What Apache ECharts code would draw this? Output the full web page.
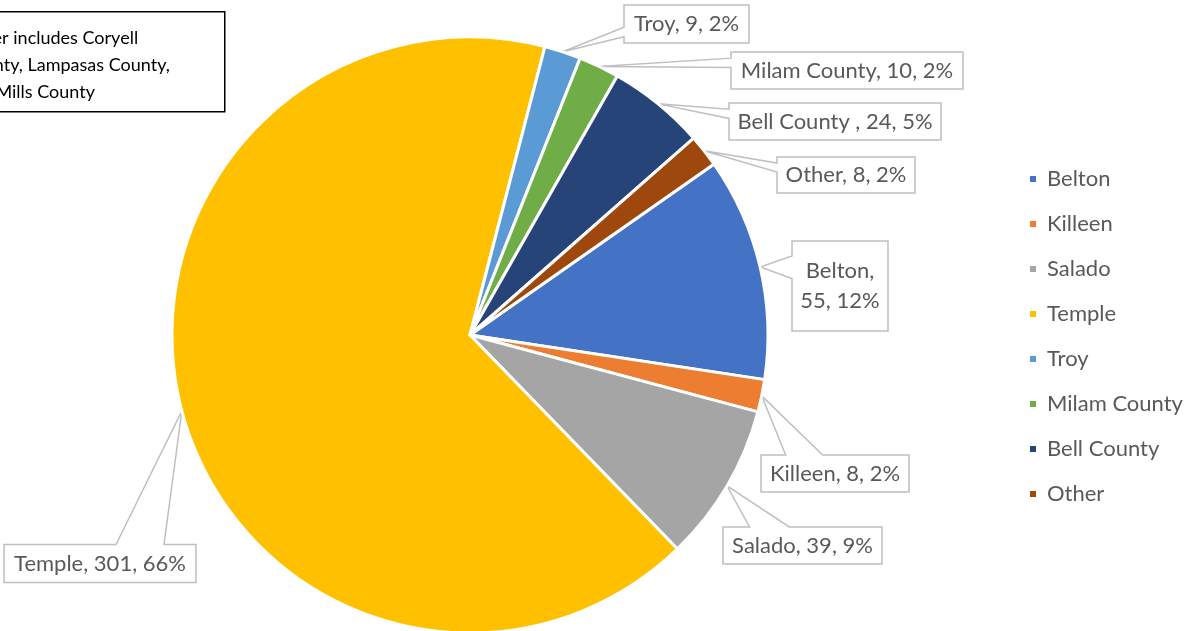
<!DOCTYPE html>
<html><head><meta charset="utf-8">
<script src="https://cdn.jsdelivr.net/npm/echarts@6/dist/echarts.min.js"></script>
<style>html,body{margin:0;padding:0;background:#fff}#c{width:1188px;height:631px}</style>
</head><body><div id="c"></div>
<script>
const categories = ['Belton','Killeen','Salado','Temple','Troy','Milam County','Bell County','Other'];
const values = [55, 8, 39, 301, 9, 10, 24, 8];
const labelNames = ['Belton','Killeen','Salado','Temple','Troy','Milam County','Bell County ','Other'];
const colors = ['#4472C4','#ED7D31','#A5A5A5','#FFC000','#5B9BD5','#70AD47','#264478','#9E480E'];
const noteLines = ['Other includes Coryell','County, Lampasas County,','and Mills County'];

// callout boxes [centerX, centerY, width, height] (layout only)
const labelBoxes = [[840,286,96,90],[835,473.5,148,37],[802.5,545.5,159,37],[100,563.5,192,38],
                    [686.5,24,125,38],[847,70.5,232,37],[835,121.5,212,37],[846,175,138,36]];

const total = values.reduce((a,b)=>a+b,0);
const FONT = 'Lato, "Open Sans", sans-serif';
const PIE_CENTER = [470,335], PIE_R = 298, START = 35;
const chart = echarts.init(document.getElementById('c'));
chart.setOption({
  animation:false,
  color: colors,
  legend:{
    orient:'vertical', left:1028, top:168, padding:0, itemWidth:8, itemHeight:8, itemGap:23,
    icon:'rect',
    data: categories,
    textStyle:{fontFamily:FONT, fontSize:22, color:'#595959', padding:[0,0,0,5]}
  },
  graphic:[{
    id:'note', type:'group', left:-40, top:11, z:0,
    children:[
      {type:'rect', shape:{x:0,y:0,width:264,height:100}, style:{fill:'#fff', stroke:'#000', lineWidth:1.5}},
      {type:'text', x:1, y:13, style:{text:noteLines.join('\n'), font:'18px '+FONT, fill:'#000', lineHeight:27}}
    ]
  }],
  series:[{
    type:'pie', z:2,
    center:PIE_CENTER, radius:PIE_R, startAngle:START,
    itemStyle:{borderColor:'#fff', borderWidth:3},
    data: categories.map((c,i)=>({name:c, value:values[i]})),
    label:{
      show:true, position:'outside', overflow:'none',
      formatter: p => {
        const pct = Math.round(p.value/total*100)+'%';
        const nm = labelNames[p.dataIndex];
        return p.dataIndex===0 ? nm+',\n'+p.value+', '+pct : nm+', '+p.value+', '+pct;
      },
      fontFamily:FONT, fontSize:22, color:'#595959', lineHeight:30
    },
    labelLine:{show:false},
    labelLayout: p => ({x:labelBoxes[p.dataIndex][0], y:labelBoxes[p.dataIndex][1], align:'center', verticalAlign:'middle'})
  }]
});

// Office-style wedge callouts pointing to the slice's mid-angle on the rim
function anchorOf(i){
  try {
    const lay = chart.getModel().getSeriesByIndex(0).getData().getItemLayout(i);
    const mid = (lay.startAngle + lay.endAngle)/2;
    const p = [lay.cx + lay.r*Math.cos(mid), lay.cy + lay.r*Math.sin(mid)];
    if (isFinite(p[0]) && isFinite(p[1])) return p;
    throw 0;
  } catch(e) {
    let acc = 0; for (let k=0;k<i;k++) acc += values[k];
    const a = (START - (acc + values[i]/2)/total*360) * Math.PI/180;
    return [PIE_CENTER[0] + PIE_R*Math.cos(a), PIE_CENTER[1] - PIE_R*Math.sin(a)];
  }
}
const callouts = labelBoxes.map((b,i)=>{
  const [cx,cy,w,h] = b; const l = cx-w/2, t = cy-h/2;
  const [px,py] = anchorOf(i);
  const dx = px-cx, dy = py-cy, dq = dx*h/w;
  const x1 = l + w*(dx>0?7:2)/12, x2 = l + w*(dx>0?10:5)/12;
  const y1 = t + h*(dy>0?7:2)/12, y2 = t + h*(dy>0?10:5)/12;
  let pts;
  if (Math.abs(dy) > Math.abs(dq)) {
    if (dy < 0) pts = [[l,t],[x1,t],[px,py],[x2,t],[l+w,t],[l+w,t+h],[l,t+h]];
    else pts = [[l,t],[l+w,t],[l+w,t+h],[x2,t+h],[px,py],[x1,t+h],[l,t+h]];
  } else {
    if (dx < 0) pts = [[l,t],[l+w,t],[l+w,t+h],[l,t+h],[l,y2],[px,py],[l,y1]];
    else pts = [[l,t],[l+w,t],[l+w,y1],[px,py],[l+w,y2],[l+w,t+h],[l,t+h]];
  }
  return {id:'co'+i, type:'polygon', z:1, shape:{points:pts}, style:{fill:'#fff', stroke:'#bfbfbf', lineWidth:1.5}};
});
chart.setOption({graphic: callouts});
</script></body></html>
